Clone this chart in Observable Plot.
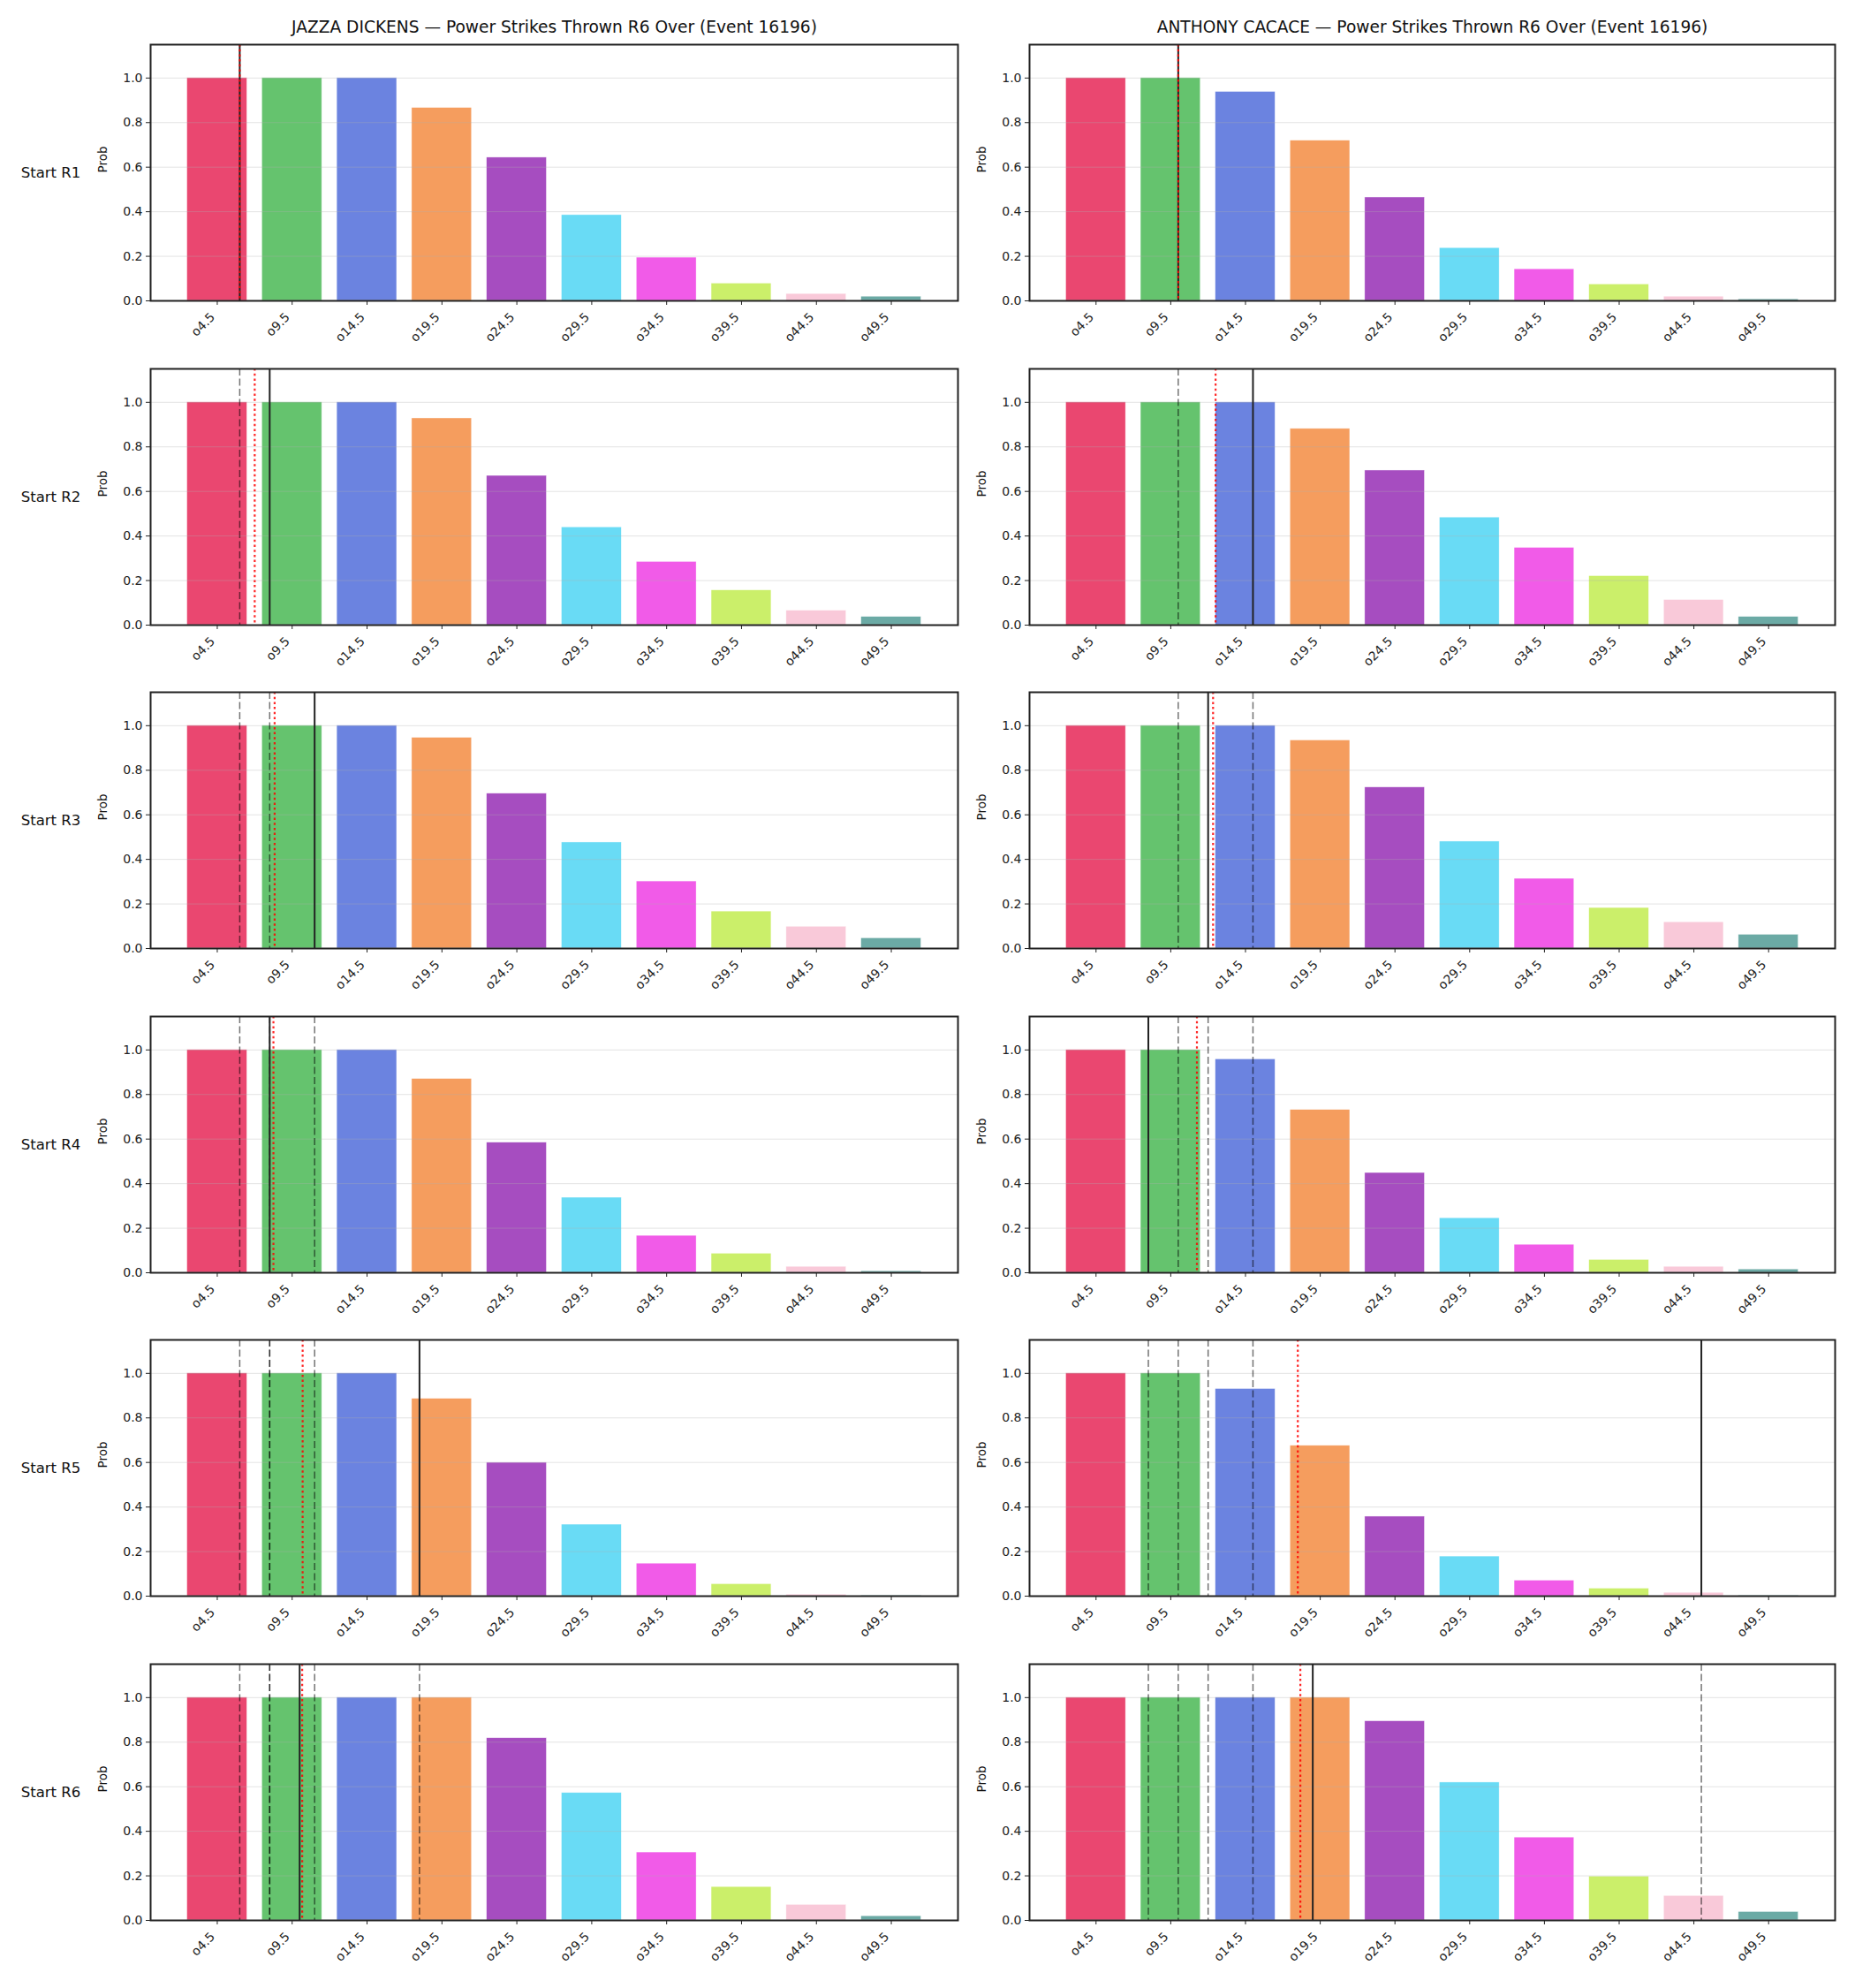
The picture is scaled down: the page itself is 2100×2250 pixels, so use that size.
<!DOCTYPE html>
<html><head><meta charset="utf-8">
<script src="https://cdn.jsdelivr.net/npm/d3@7"></script>
<script src="https://cdn.jsdelivr.net/npm/@observablehq/plot@0.6"></script>
<style>
body{margin:0;background:#fff;}
#root{position:relative;width:2100px;height:2250px;background:#fff;overflow:hidden;}
.panel{position:absolute;}
</style></head><body><div id="root"></div>
<script>
// ---- data ----
const fighters = ["JAZZA DICKENS", "ANTHONY CACACE"];
const titleSuffix = " — Power Strikes Thrown R6 Over (Event 16196)";
const rowLabels = ["Start R1", "Start R2", "Start R3", "Start R4", "Start R5", "Start R6"];
const lineLabels = ["o4.5", "o9.5", "o14.5", "o19.5", "o24.5", "o29.5", "o34.5", "o39.5", "o44.5", "o49.5"];
const lineValues = [4.5, 9.5, 14.5, 19.5, 24.5, 29.5, 34.5, 39.5, 44.5, 49.5];
const barColors = ["#ea4770", "#65c36e", "#6b83e0", "#f59d5e", "#a64dc0", "#69dbf5", "#f15be8", "#cbef6a", "#f9c9d9", "#6baaa5"];
const yTicks = [0, 0.2, 0.4, 0.6, 0.8, 1.0];

const dickensR1 = [1.0, 1.0, 1.0, 0.866, 0.643, 0.385, 0.194, 0.078, 0.031, 0.019];
const dickensR2 = [1.0, 1.0, 1.0, 0.928, 0.670, 0.439, 0.284, 0.156, 0.065, 0.037];
const dickensR3 = [1.0, 1.0, 1.0, 0.946, 0.695, 0.476, 0.301, 0.166, 0.098, 0.046];
const dickensR4 = [1.0, 1.0, 1.0, 0.870, 0.584, 0.337, 0.166, 0.086, 0.027, 0.007];
const dickensR5 = [1.0, 1.0, 1.0, 0.886, 0.599, 0.321, 0.146, 0.054, 0.007, 0.003];
const dickensR6 = [1.0, 1.0, 1.0, 1.0, 0.818, 0.572, 0.305, 0.150, 0.070, 0.019];

const cacaceR1 = [1.0, 1.0, 0.938, 0.719, 0.464, 0.237, 0.142, 0.074, 0.019, 0.007];
const cacaceR2 = [1.0, 1.0, 1.0, 0.881, 0.694, 0.483, 0.347, 0.220, 0.113, 0.037];
const cacaceR3 = [1.0, 1.0, 1.0, 0.934, 0.723, 0.480, 0.313, 0.182, 0.118, 0.062];
const cacaceR4 = [1.0, 1.0, 0.958, 0.731, 0.448, 0.245, 0.126, 0.058, 0.027, 0.015];
const cacaceR5 = [1.0, 1.0, 0.930, 0.675, 0.357, 0.178, 0.070, 0.034, 0.015, 0.003];
const cacaceR6 = [1.0, 1.0, 1.0, 1.0, 0.894, 0.619, 0.372, 0.197, 0.110, 0.038];

// per-round actual (solid line) and running average (red dotted)
const dickensActual = [6, 8, 11, 8, 18, 10];
const cacaceActual = [10, 15, 12, 8, 45, 19];
const dickensAvg = [6, 7, 8.33, 8.25, 10.2, 10.17];
const cacaceAvg = [10, 12.5, 12.33, 11.25, 18, 18.17];

const probs = [
  [dickensR1, dickensR2, dickensR3, dickensR4, dickensR5, dickensR6],
  [cacaceR1, cacaceR2, cacaceR3, cacaceR4, cacaceR5, cacaceR6]
];
const actuals = [dickensActual, cacaceActual];
const avgs = [dickensAvg, cacaceAvg];

// ---- layout ----
const cols = [
  {left: 0, width: 1100, ml: 170, mr: 16},
  {left: 1100, width: 1000, ml: 65, mr: 23}
];
const frameH = 290, mt = 50, mb = 70, rowStep = 366.55;
const root = document.getElementById("root");

for (let c = 0; c < 2; c++) {
  for (let r = 0; r < 6; r++) {
    const col = cols[c];
    const data = lineLabels.map((lab, i) => ({label: lab, v: lineValues[i], p: probs[c][r][i]}));
    const dashed = actuals[c].slice(0, r);
    const marks = [
      Plot.rectY(data, {x1: d => d.v - 2, x2: d => d.v + 2, y: "p", fill: "label",
        stroke: "white", strokeWidth: 0.6, strokeOpacity: 0.7}),
      Plot.ruleY(yTicks, {stroke: "#b0b0b0", strokeOpacity: 0.35, strokeWidth: 1}),
      Plot.ruleX(dashed, {stroke: "#000", strokeOpacity: 0.55, strokeWidth: 1.5, strokeDasharray: "8,3.5"}),
      Plot.ruleX([actuals[c][r]], {stroke: "#222", strokeWidth: 2}),
      Plot.ruleX([avgs[c][r]], {stroke: "#ff0000", strokeOpacity: 0.85, strokeWidth: 2.2, strokeDasharray: "2.5,3.2"}),
      Plot.frame({stroke: "#222", strokeWidth: 2}),
      Plot.axisY({ticks: yTicks, tickFormat: d => d.toFixed(1), tickSize: 5, tickPadding: 4, label: null, fontSize: 14}),
      Plot.axisX({ticks: lineValues, tickFormat: () => "", tickSize: 5, label: null}),
      Plot.axisX({ticks: lineValues, tickFormat: (d, i) => lineLabels[i], tickSize: 0, tickPadding: 10,
        tickRotate: -45, label: null, fontSize: 14, dx: -5, dy: 6}),
      Plot.text(["Prob"], {frameAnchor: "left", dx: -54, rotate: -90, fontSize: 13.5, fill: "#111"})
    ];
    if (c === 0) {
      marks.push(Plot.text([rowLabels[r]], {frameAnchor: "left", dx: -113, textAnchor: "middle", fontSize: 16.5, fill: "#111"}));
    }
    if (r === 0) {
      marks.push(Plot.text([fighters[c] + titleSuffix], {frameAnchor: "top", dy: -19, lineAnchor: "middle", fontSize: 18.6, fill: "#111"}));
    }
    const chart = Plot.plot({
      width: col.width,
      height: mt + frameH + mb,
      marginLeft: col.ml,
      marginRight: col.mr,
      marginTop: mt,
      marginBottom: mb,
      x: {type: "linear", domain: [0.05, 53.95]},
      y: {domain: [0, 1.15]},
      color: {domain: lineLabels, range: barColors},
      style: {fontFamily: "DejaVu Sans", fontSize: "14px", background: "transparent", color: "#222", overflow: "visible"},
      marks
    });
    const div = document.createElement("div");
    div.className = "panel";
    div.style.left = col.left + "px";
    div.style.top = (r * rowStep) + "px";
    div.appendChild(chart);
    root.appendChild(div);
  }
}
</script></body></html>
